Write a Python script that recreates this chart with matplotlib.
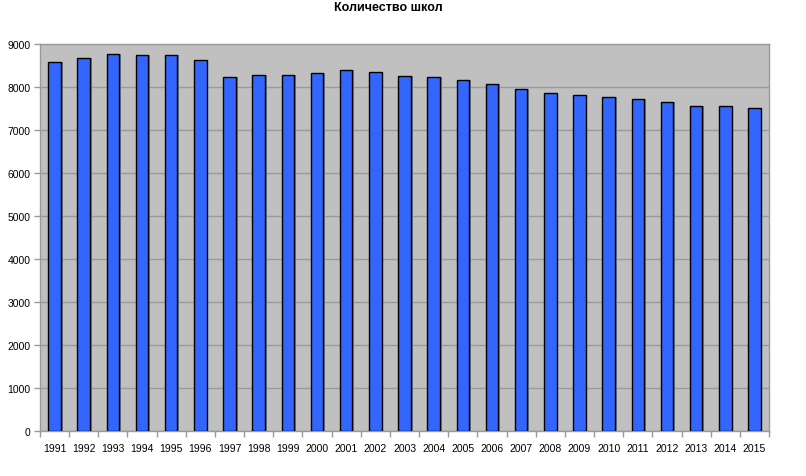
import matplotlib
matplotlib.use("Agg")
import matplotlib.pyplot as plt
import numpy as np

plt.rcParams['font.family'] = ['Liberation Sans', 'DejaVu Sans']

years = ['1991', '1992', '1993', '1994', '1995', '1996', '1997', '1998', '1999', '2000',
         '2001', '2002', '2003', '2004', '2005', '2006', '2007', '2008', '2009', '2010',
         '2011', '2012', '2013', '2014', '2015']
schools = [8570, 8658, 8759, 8728, 8735, 8618, 8227, 8274, 8283, 8314,
           8400, 8337, 8243, 8220, 8157, 8056, 7955, 7862, 7806, 7752,
           7705, 7635, 7557, 7557, 7511]
yticks = [0, 1000, 2000, 3000, 4000, 5000, 6000, 7000, 8000, 9000]

fig = plt.figure(figsize=(8.06, 4.77), dpi=100)
ax = fig.add_axes([40/806, 1-432/477, 729/806, (432-44.7)/477])
ax.set_facecolor('#C0C0C0')

x = np.arange(len(years))
# shadow
ax.bar(x + 0.06, schools, width=0.43, color='#7a7a7a', zorder=2, linewidth=0)
ax.bar(x, schools, width=0.43, color='#3366FF', edgecolor='black', linewidth=1.0, zorder=3)

ax.set_xlim(-0.5, len(years) - 0.5)
ax.set_ylim(0, 9000)
ax.set_yticks(yticks)
ax.set_yticklabels([str(v) for v in yticks], fontsize=7.5)
ax.yaxis.grid(True, color='#9a9a9a', linewidth=1.0, zorder=1)
ax.set_axisbelow(True)

ax.set_xticks(x)
ax.set_xticklabels(years, fontsize=7.5)
ax.tick_params(axis='x', length=0, pad=9)
ax.set_xticks(np.arange(len(years) + 1) - 0.5, minor=True)
ax.tick_params(axis='x', which='minor', length=4, color='#9a9a9a', width=1)
ax.tick_params(axis='y', length=4, color='#9a9a9a', width=1, pad=3)

for s in ax.spines.values():
    s.set_color('#9a9a9a')
    s.set_linewidth(1.0)

fig.text(388/806, 1-8/477, 'Количество школ', ha='center', va='center',
         fontsize=9, fontweight='bold')

fig.savefig('out.png', dpi=100)
